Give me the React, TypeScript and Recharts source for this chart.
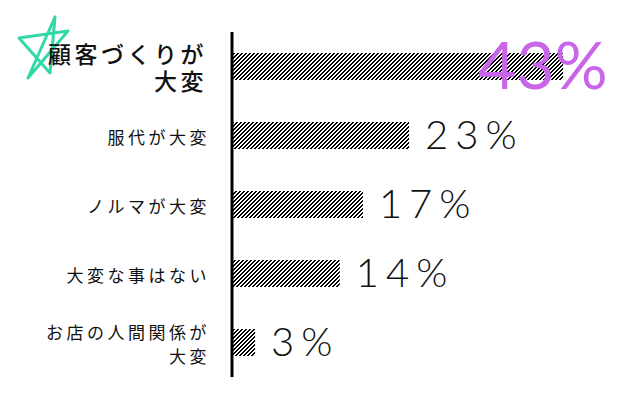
import React from 'react';
import { BarChart, Bar, XAxis, YAxis, LabelList } from 'recharts';

const categories = ['顧客づくりが\n大変', '服代が大変', 'ノルマが大変', '大変な事はない', 'お店の人間関係が\n大変'];
const values = [43, 23, 17, 14, 3];
const valueLabels = ['43%', '23%', '17%', '14%', '3%'];

const data = categories.map((name, i) => ({ name, value: values[i], label: valueLabels[i] }));

const STAR_COLOR = '#33d8a8';
const HIGHLIGHT = '#c965e8';

const CategoryTick = (props: any) => {
  const { y, payload, index } = props;
  const lines: string[] = String(payload.value).split('\n');
  const first = index === 0;
  const fs = first ? 23 : 17;
  const ls = 3.5;
  const lh = first ? 27 : 24;
  const rightX = first ? 207 : 210;
  const startY = y - ((lines.length - 1) * lh) / 2;
  return (
    <g>
      {first && (
        <path
          d="M55 17 L28 78 L68 31 L19 38 L50 73 L55 17"
          fill="none"
          stroke={STAR_COLOR}
          strokeWidth={3}
          strokeLinejoin="round"
          strokeLinecap="round"
        />
      )}
      <text
        textAnchor="end"
        dominantBaseline="central"
        fontSize={fs}
        letterSpacing={ls}
        fill="#111"
        fontFamily="'Noto Sans CJK JP', sans-serif"
        fontWeight={first ? 500 : 400}
      >
        {lines.map((l, i) => (
          <tspan key={i} x={rightX} y={startY + i * lh}>
            {l}
          </tspan>
        ))}
      </text>
    </g>
  );
};

const ValueLabel = (props: any) => {
  const { x, y, width, height, value, index } = props;
  const first = index === 0;
  const cy = y + height / 2;
  if (first) {
    return (
      <text
        x={x + width - 85}
        y={cy + 22}
        fontSize={66}
        fill={HIGHLIGHT}
        fontFamily="Lato, sans-serif"
        fontWeight={400}
        letterSpacing={0}
      >
        {value}
      </text>
    );
  }
  return (
    <text
      x={x + width + 16}
      y={cy + 13}
      fontSize={40}
      fill="#111"
      fontFamily="Lato, sans-serif"
      fontWeight={300}
      letterSpacing={7}
    >
      {value}
    </text>
  );
};

export default function App() {
  return (
    <div style={{ margin: -8, width: 640, height: 397 }}>
      <BarChart
        width={640}
        height={397}
        data={data}
        layout="vertical"
        margin={{ top: 32, right: 23, bottom: 20, left: 0 }}
        barCategoryGap={21}
      >
        <defs>
          <pattern id="hatch" patternUnits="userSpaceOnUse" x="0" y="0" width="4" height="4">
            <g fill="#000" shapeRendering="crispEdges">
              <rect x="2" y="0" width="2" height="1" />
              <rect x="1" y="1" width="2" height="1" />
              <rect x="0" y="2" width="2" height="1" />
              <rect x="0" y="3" width="1" height="1" />
              <rect x="3" y="3" width="1" height="1" />
            </g>
          </pattern>
        </defs>
        <XAxis type="number" domain={[0, 50]} hide />
        <YAxis
          type="category"
          dataKey="name"
          width={232}
          axisLine={{ stroke: '#000', strokeWidth: 3 }}
          tickLine={false}
          tick={<CategoryTick />}
          interval={0}
        />
        <Bar dataKey="value" fill="url(#hatch)" barSize={27} isAnimationActive={false}>
          <LabelList dataKey="label" content={<ValueLabel />} />
        </Bar>
      </BarChart>
    </div>
  );
}
